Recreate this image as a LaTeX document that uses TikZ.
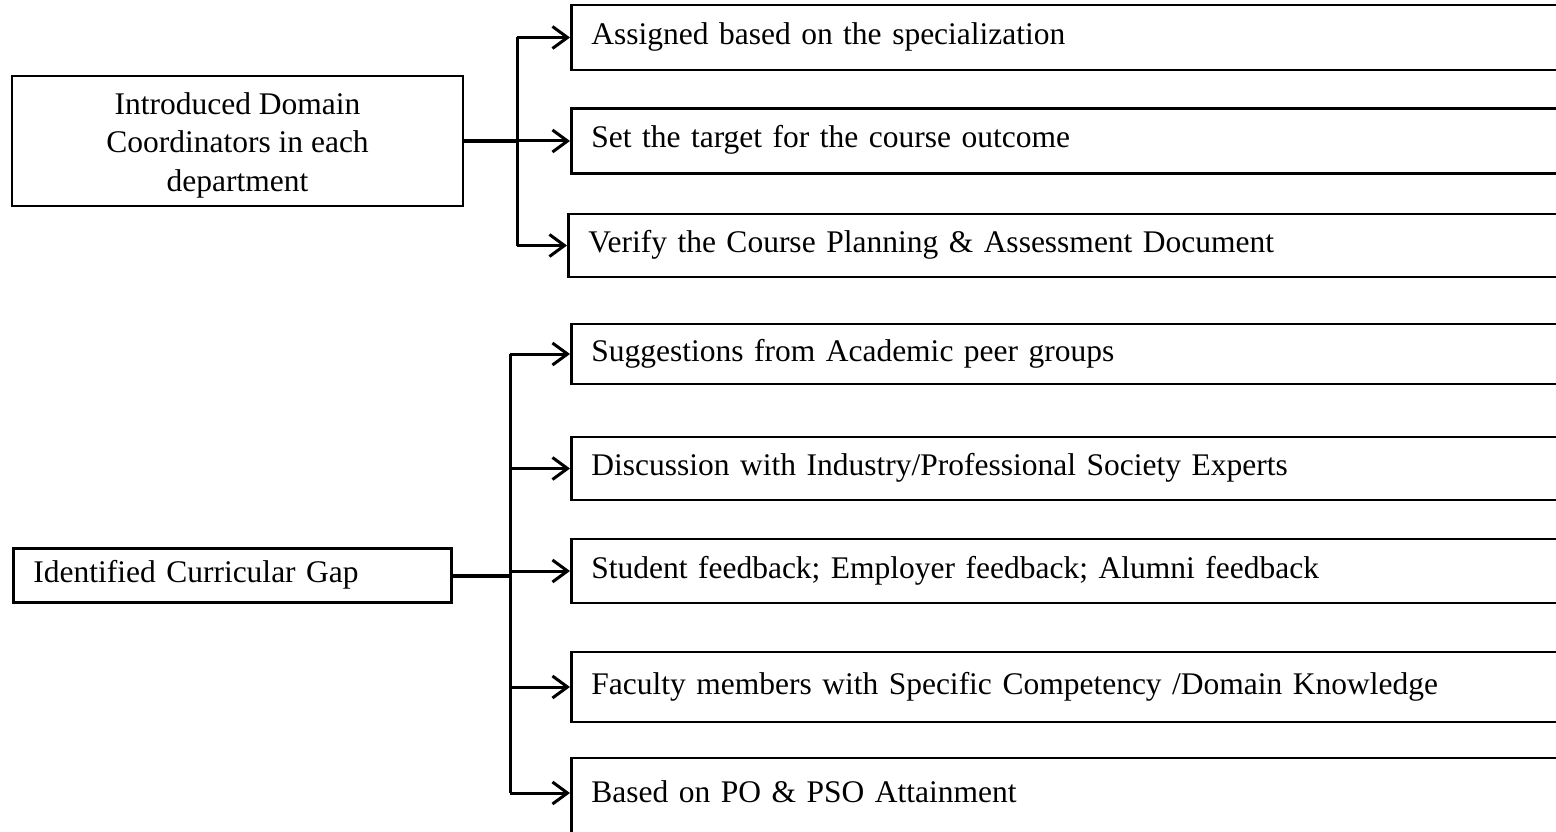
\documentclass[tikz,border=0pt]{standalone}
\usepackage{fontspec}
\setmainfont{Liberation Serif}
\usetikzlibrary{arrows.meta}
\tikzset{
  txt/.style={font=\fontsize{31.5}{38.5}\selectfont},
  leftbox/.style={draw, line width=2.6pt, inner xsep=20pt, inner ysep=0pt, txt},
  itembox/.style={draw, line width=2.6pt, anchor=west, minimum width=1040pt,
    text width=1000pt, align=left, inner xsep=20pt, inner ysep=0pt,
    text height=21pt, text depth=7pt, txt},
  link/.style={line width=4pt},
  trunk/.style={line width=3pt},
  arr/.style={line width=3pt, -{Straight Barb[length=15pt,width=22pt]}}
}
\begin{document}
\begin{tikzpicture}[x=1pt,y=-1pt]
\useasboundingbox (0,0) rectangle (1556,832);
\clip (0,0) rectangle (1556,832);

% left boxes
\node[leftbox, minimum width=451pt, minimum height=130pt] (A) at (237.5,141) {};
\node[txt, align=center, inner sep=0pt, yshift=-4pt] (Atxt) at (A.center)
  {Introduced Domain\\Coordinators in each\\department};
\node[leftbox, anchor=west, minimum width=438pt, minimum height=54pt,
  text width=398pt, align=left, text height=21pt, text depth=7pt]
  (B) at (12,575.5) {Identified Curricular Gap};

% top group
\node[itembox, minimum height=65pt] (R1) at (570,37.5) {Assigned based on the specialization};
\node[itembox, minimum height=65pt] (R2) at (570,141) {Set the target for the course outcome};
\node[itembox, minimum height=63pt] (R3) at (567,245.5) {Verify the Course Planning \& Assessment Document};

% bottom group
\node[itembox, minimum height=60pt] (R4) at (570,354) {Suggestions from Academic peer groups};
\node[itembox, minimum height=63pt] (R5) at (570,468.5) {Discussion with Industry/Professional Society Experts};
\node[itembox, minimum height=64pt] (R6) at (570,571) {Student feedback; Employer feedback; Alumni feedback};
\node[itembox, minimum height=70pt] (R7) at (570,687) {Faculty members with Specific Competency /Domain Knowledge};
\node[itembox, minimum height=90pt] (R8) at (570,803) {\raisebox{8pt}{Based on PO \& PSO Attainment}};

% connectors top
\coordinate (tA) at (517,141);
\draw[link] (A.east) -- (tA);
\draw[trunk] (tA |- R1.west) -- (tA |- R3.west);
\draw[arr] (tA |- R1.west) -- (R1.west);
\draw[arr] (tA |- R2.west) -- (R2.west);
\draw[arr] (tA |- R3.west) -- (R3.west);

% connectors bottom
\coordinate (tB) at (510,575.5);
\coordinate (e8) at (570,793);
\draw[link] (B.east) -- (tB);
\draw[trunk] (tB |- R4.west) -- (tB |- e8);
\draw[arr] (tB |- R4.west) -- (R4.west);
\draw[arr] (tB |- R5.west) -- (R5.west);
\draw[arr] (tB |- R6.west) -- (R6.west);
\draw[arr] (tB |- R7.west) -- (R7.west);
\draw[arr] (tB |- e8) -- (e8);
\end{tikzpicture}
\end{document}
